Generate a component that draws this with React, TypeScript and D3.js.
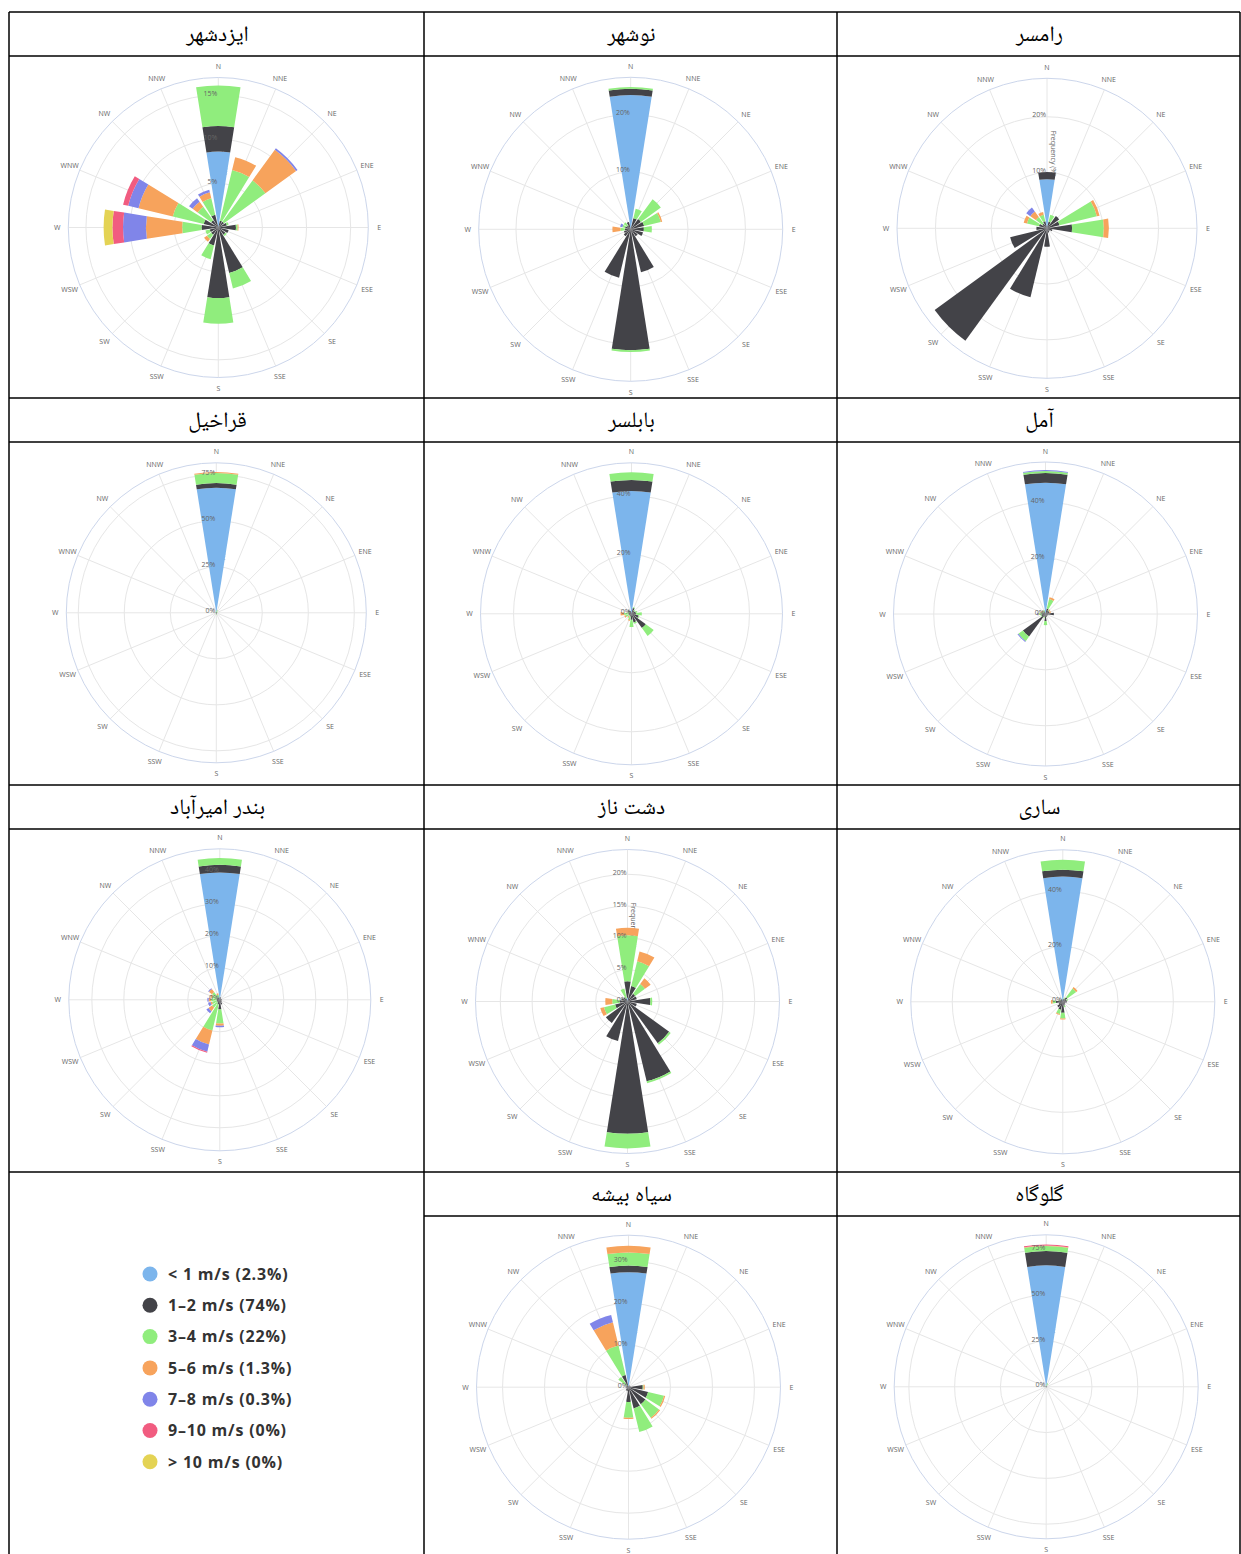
import React from "react";
import * as d3 from "d3";

const DIRECTIONS = ["N", "NNE", "NE", "ENE", "E", "ESE", "SE", "SSE", "S", "SSW", "SW", "WSW", "W", "WNW", "NW", "NNW"];
const SPEED_BINS = ["< 1 m/s (2.3%)", "1–2 m/s (74%)", "3–4 m/s (22%)", "5–6 m/s (1.3%)", "7–8 m/s (0.3%)", "9–10 m/s (0%)", "> 10 m/s (0%)"];
const BIN_COLORS = ["#7cb5ec", "#434348", "#90ed7d", "#f7a35c", "#8085e9", "#f15c80", "#e4d354"];

// frequency (%) per direction (rows, N clockwise) and speed bin (columns)
const IZADSHAHR = [
  [8.6, 2.9, 4.6], [0, 0.8, 5.9, 1.5], [0, 0.8, 5.8, 4.3, 0.2], [0, 1.0, 0.2], [0, 2.0, 0.2, 0.1], [0, 1.2], [0, 1.0, 0.2], [0, 5.3, 1.8],
  [0, 8.0, 2.9], [0, 2.1, 1.6], [0, 1.0, 0.6, 0.4], [0, 1.0, 0.5], [0, 1.9, 2.2, 4.1, 2.6, 1.2, 1.0], [0, 1.7, 3.6, 4.0, 1.2, 0.6], [0, 1.0, 1.9, 0.7, 0.5], [0, 1.5, 1.9, 0.7, 0.3],
];
const NOWSHAHR = [
  [23.4, 1.1, 0.3], [0, 2.0, 1.7], [0, 2.2, 4.3], [0, 2.4, 3.0, 0.25], [0, 2.3, 1.4], [0, 2.2], [0, 1.5], [0, 7.7],
  [0, 21.1, 0.3], [0, 8.7], [0, 1.5], [0, 1.2], [0, 1.0, 0.8, 1.4], [0, 1.0, 0.5, 0, 0.4], [0, 0.8, 0.7], [0, 1.3],
];
const RAMSAR = [
  [8.8, 1.3], [0, 1.2, 1.3], [0, 2.7], [0, 2.3, 6.9, 0.5], [0, 4.5, 5.7, 0.9], [0, 1.0], [0, 0.6], [0, 0.8],
  [0, 3.3], [0, 12.7], [0, 24.9], [0, 6.8], [0, 1.9], [0, 1.5, 2.2, 0.6], [0, 1.0, 1.5, 1.2, 0.9], [0, 1.3, 1.2, 0.5],
];
const GHARAKHIL = [
  [68, 2.5, 5.5, 0.5], [0, 0.5, 1.0], [0, 0.3, 0.5], [0, 0.3], [0, 0.3, 0.5], [0, 0.3], [0, 0.3], [0, 0.5],
  [0, 0.8, 0.4], [0, 0.5], [0, 0.3], [0, 0.3], [0, 0.4, 0.3], [0, 0.3], [0, 0.3, 0.4], [0, 0.4],
];
const BABOLSAR = [
  [41.6, 3.8, 2.6], [0, 2.0, 0.3], [0, 1.2, 0.4], [0, 1.5, 0.5], [0, 1.5, 2.0], [0, 2.5, 0.3], [0, 6.0, 3.3], [0, 3.0, 0.5],
  [0, 2.0, 2.5], [0, 1.0, 1.2, 0.3], [0, 0.8, 0.5, 0.4], [0, 1.0, 1.0, 0.5], [0, 1.0, 1.5, 1.2], [0, 0.8, 0.5], [0, 1.5], [0, 1.0],
];
const AMOL = [
  [47, 3.5, 0.7, 0, 0.3], [0, 2.0, 3.5, 0.7], [0, 1.5, 0.3, 0.3], [0, 1.5, 0, 0.5], [0, 3.0], [0, 1.0], [0, 0.8], [0, 1.0],
  [0, 2.5, 1.5], [0, 1.0, 0.5], [0, 10, 2, 0, 0.4], [0, 1.5, 0.3], [0, 1.5, 0.8, 0.3, 0.4], [0, 1.0, 0.5, 0.3], [0, 0.8, 0.3, 0.4], [0, 1.0, 0.5],
];
const AMIRABAD = [
  [39.8, 2.4, 2.1], [0, 0.8], [0, 0.5], [0, 0.5], [0, 0.7], [0, 0.5], [0, 0.8], [0, 1.5],
  [0, 3.0, 4.4, 0.7, 0.5], [0, 1.5, 8.4, 4.5, 2.3, 0.3], [0, 1.0, 2.0, 1.4, 0.8], [0, 1.0, 1.5, 0.5, 0.8], [0, 1.0, 1.7, 0.8, 0.4], [0, 1.0, 1.5, 0.6], [0, 1.0, 2.0, 1.2, 0.3], [0, 0.8, 0.8, 0.5],
];
const DASHTNAZ = [
  [0.6, 2.6, 7.2, 1.2], [0, 2.5, 4.0, 1.6], [0, 1.5, 1.9, 1.1], [0, 1.5], [0, 3.6, 0.3], [0, 1.5], [0, 8.1, 0.3], [0, 12.9, 0.3],
  [0, 20.8, 2.3], [0, 6.4], [0, 4.2], [0, 2.0, 1.8, 0.6], [0, 1.2, 1.2, 1.1], [0, 1.0], [0, 0.8], [0, 0.5, 1.6],
];
const SARI = [
  [45.3, 2.5, 3.6], [0, 1.0, 0.5], [0, 2.0, 4.0, 0.6], [0, 1.5, 0.5], [0, 1.5], [0, 1.0], [0, 1.0], [0, 1.5, 0.5],
  [0, 4.0, 2.0, 0.4], [0, 3.0, 1.5, 0.4], [0, 2.5], [0, 1.5], [0, 2.5, 1.2, 0.6], [0, 1.0, 0.5], [0, 1.0], [0, 1.0],
];
const SIAHBISHEH = [
  [27.4, 1.6, 3.1, 1.6], [0, 0.5], [0, 0.3], [0, 0.5], [0, 3.4, 0.2, 0.3], [0, 4.8, 3.9, 0.3], [0, 5.0, 4.0, 0.3], [0, 5.2, 5.8],
  [0, 3.5, 3.8, 0.3], [0, 1.0], [0, 0.8], [0, 0.5], [0, 0.5], [0, 0.5], [0, 0.5, 2.5], [0, 3.0, 7.2, 5.7, 1.8],
];
const GALUGAH = [
  [66.3, 7.8, 2.8, 0.3, 0, 0.5], [0, 0.5, 1.5], [0, 0.4], [0, 0.3], [0, 0.5], [0, 0.3], [0, 0.3], [0, 0.3],
  [0, 0.5], [0, 0.3], [0, 0.3], [0, 0.3], [0, 0.5, 0.4], [0, 0.3], [0, 0.3], [0, 0.4],
];

const STATIONS = [
  { name: "ایزدشهر", data: IZADSHAHR, ticks: [5, 10, 15], max: 17.0, zero: false },
  { name: "نوشهر", data: NOWSHAHR, ticks: [10, 20], max: 26.5, zero: false },
  { name: "رامسر", data: RAMSAR, ticks: [10, 20], max: 26.9, zero: false },
  { name: "قراخیل", data: GHARAKHIL, ticks: [25, 50, 75], max: 81.5, zero: true },
  { name: "بابلسر", data: BABOLSAR, ticks: [20, 40], max: 51.2, zero: true },
  { name: "آمل", data: AMOL, ticks: [20, 40], max: 54.4, zero: true },
  { name: "بندر امیرآباد", data: AMIRABAD, ticks: [10, 20, 30, 40], max: 47.2, zero: true },
  { name: "دشت ناز", data: DASHTNAZ, ticks: [5, 10, 15, 20], max: 23.9, zero: true },
  { name: "ساری", data: SARI, ticks: [20, 40], max: 55, zero: true },
  { name: "سیاه بیشه", data: SIAHBISHEH, ticks: [10, 20, 30], max: 36.2, zero: true },
  { name: "گلوگاه", data: GALUGAH, ticks: [25, 50, 75], max: 83, zero: true },
];

// layout (cell column/row, centre offset within chart cell, radius)
const LAYOUT = [
  { col: 0, row: 0, dx: 209.3, dy: 171.5, R: 150 },
  { col: 1, row: 0, dx: 206.7, dy: 173.3, R: 152 },
  { col: 2, row: 0, dx: 210, dy: 172.3, R: 150 },
  { col: 0, row: 1, dx: 207.3, dy: 170.8, R: 150 },
  { col: 1, row: 1, dx: 207.5, dy: 171.8, R: 151 },
  { col: 2, row: 1, dx: 208.5, dy: 172, R: 152 },
  { col: 0, row: 2, dx: 210.8, dy: 170.8, R: 151 },
  { col: 1, row: 2, dx: 203.5, dy: 172.5, R: 152 },
  { col: 2, row: 2, dx: 225.8, dy: 172.8, R: 152 },
  { col: 1, row: 3, dx: 204.5, dy: 171.2, R: 152 },
  { col: 2, row: 3, dx: 209.2, dy: 170.8, R: 152 },
];

const COLS = [9, 424, 837, 1240];
const ROW_TOPS = [12, 398, 785, 1172];
const HEADER_H = 44;
const W = 1241;
const H = 1554;

const STEP = (2 * Math.PI) / 16;
const HALF = (9 * Math.PI) / 180;
const LABEL_FONT = "'Open Sans', 'DejaVu Sans', sans-serif";

function Rose({ st, lay }: any) {
  const cx = COLS[lay.col] + lay.dx;
  const cy = ROW_TOPS[lay.row] + HEADER_H + lay.dy;
  const R = lay.R;
  const r = d3.scaleLinear().domain([0, st.max]).range([0, R]);
  const arc = d3.arc<any>();
  const segs: any[] = [];
  st.data.forEach((row: number[], i: number) => {
    let acc = 0;
    row.forEach((v: number, j: number) => {
      if (!(v > 0)) return;
      const d = arc({ innerRadius: r(acc), outerRadius: r(acc + v), startAngle: i * STEP - HALF, endAngle: i * STEP + HALF });
      acc += v;
      segs.push(<path key={`s${i}-${j}`} d={d || ""} fill={BIN_COLORS[j]} />);
    });
  });
  const tickLabels = (st.zero ? [0] : []).concat(st.ticks);
  return (
    <g>
      <g transform={`translate(${cx},${cy})`}>
        {st.ticks.map((t: number) => (
          <circle key={`c${t}`} r={r(t)} fill="none" stroke="#e6e6e6" strokeWidth={1} />
        ))}
        {DIRECTIONS.map((d, i) => (
          <line key={`l${d}`} x1={0} y1={0} x2={R * Math.sin(i * STEP)} y2={-R * Math.cos(i * STEP)} stroke="#e6e6e6" strokeWidth={1} />
        ))}
        <circle r={R} fill="none" stroke="#ccd6eb" strokeWidth={1} />
        <text
          transform={`translate(3.5,${-R / 2}) rotate(90)`}
          textAnchor="middle"
          fontSize={7}
          fill="#666666"
          fontFamily={LABEL_FONT}
        >
          Frequency (%)
        </text>
        {segs}
        {tickLabels.map((t: number) => (
          <text key={`t${t}`} x={-1} y={-r(t) + 0.5} textAnchor="end" fontSize={7} fill="#666666" fontFamily={LABEL_FONT}>
            {`${t}%`}
          </text>
        ))}
        {DIRECTIONS.map((d, i) => (
          <text
            key={`d${d}`}
            x={(R + 11) * Math.sin(i * STEP)}
            y={-(R + 11) * Math.cos(i * STEP)}
            textAnchor="middle"
            dominantBaseline="central"
            fontSize={7}
            fill="#666666"
            fontFamily={LABEL_FONT}
          >
            {d}
          </text>
        ))}
      </g>
      <text
        x={(COLS[lay.col] + COLS[lay.col + 1]) / 2 + 1}
        y={ROW_TOPS[lay.row] + 29}
        textAnchor="middle"
        direction="rtl"
        fontSize={22}
        fontFamily="'Times New Roman', 'Noto Naskh Arabic', 'DejaVu Sans', serif"
        fill="#000"
      >
        {st.name}
      </text>
    </g>
  );
}

export default function App() {
  const lines: any[] = [];
  const sw = 1.5;
  COLS.forEach((x, i) => lines.push(<line key={`v${i}`} x1={x} x2={x} y1={12} y2={H} stroke="#000" strokeWidth={sw} />));
  ROW_TOPS.forEach((y, i) => {
    lines.push(<line key={`h${i}`} x1={COLS[0]} x2={COLS[3]} y1={y} y2={y} stroke="#000" strokeWidth={sw} />);
    const x0 = i === 3 ? COLS[1] : COLS[0];
    lines.push(<line key={`hh${i}`} x1={x0} x2={COLS[3]} y1={y + HEADER_H} y2={y + HEADER_H} stroke="#000" strokeWidth={sw} />);
  });
  return (
    <svg width={W} height={H} style={{ position: "absolute", left: 0, top: 0, background: "#fff" }}>
      <rect x={0} y={0} width={W} height={H} fill="#fff" />
      {STATIONS.map((st, k) => (
        <Rose key={k} st={st} lay={LAYOUT[k]} />
      ))}
      {SPEED_BINS.map((s, i) => {
        const y = 1274 + i * 31.3;
        return (
          <g key={`lg${i}`}>
            <circle cx={150} cy={y} r={7.5} fill={BIN_COLORS[i]} />
            <text x={168} y={y + 5.8} fontSize={16} fontWeight="bold" fill="#333333" letterSpacing={0.8} fontFamily={LABEL_FONT}>
              {s}
            </text>
          </g>
        );
      })}
      {lines}
    </svg>
  );
}
